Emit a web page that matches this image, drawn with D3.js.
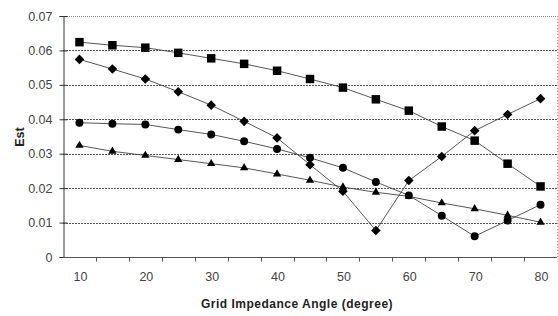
<!DOCTYPE html>
<html>
<head>
<meta charset="utf-8">
<script src="https://cdn.jsdelivr.net/npm/d3@7"></script>
<style>
body{margin:0;background:#fff;}
svg{display:block;font-family:"Liberation Sans",Arial,sans-serif;}
</style>
</head>
<body>
<svg id="chart" width="558" height="316"></svg>
<script>
// categories on the x axis (degrees)
var angles=[10,15,20,25,30,35,40,45,50,55,60,65,70,75,80];
var xLabels=[10,20,30,40,50,60,70,80];
var yTicks=[0,0.01,0.02,0.03,0.04,0.05,0.06,0.07];

// series
var squares=[0.0624,0.0615,0.0608,0.0593,0.0577,0.0561,0.0541,0.0517,0.0492,0.0458,0.0425,0.0379,0.0338,0.0271,0.0205];
var diamonds=[0.0574,0.0546,0.0517,0.0480,0.0441,0.0394,0.0346,0.0268,0.0191,0.0077,0.0222,0.0292,0.0367,0.0414,0.0460];
var circles=[0.0390,0.0387,0.0385,0.0370,0.0356,0.0336,0.0314,0.0288,0.0259,0.0218,0.0179,0.0120,0.0060,0.0106,0.0152];
var triangles=[0.0324,0.0307,0.0295,0.0283,0.0271,0.0259,0.0241,0.0223,0.0203,0.0188,0.0176,0.0157,0.0140,0.0121,0.0101];

// diamonds are squares turned 45 deg (d3's diamond is too tall)
var series=[
  {vals:squares, sym:d3.symbolSquare, size:72, rot:0},
  {vals:diamonds, sym:d3.symbolSquare, size:46, rot:45},
  {vals:circles, sym:d3.symbolCircle, size:50, rot:0},
  {vals:triangles, sym:d3.symbolTriangle, size:30, rot:0}
];

// plot box (pixels); note: "top" would clash with window.top
var pL=63, pR=557, pT=16, pB=257;
var svg=d3.select("#chart");

var x=d3.scalePoint().domain(angles).range([pL,pR]).padding(0.5);
var y=d3.scaleLinear().domain([0,0.07]).range([pB,pT]);
var step=x.step();

// dotted grid + frame
svg.append("g").selectAll("line").data(yTicks.slice(1,-1)).enter().append("line")
  .attr("x1",pL).attr("x2",pR)
  .attr("y1",function(d){return Math.round(y(d))+0.5;}).attr("y2",function(d){return Math.round(y(d))+0.5;})
  .attr("stroke","#555").attr("stroke-width",1).attr("stroke-dasharray","2,1");
svg.append("line").attr("x1",pL).attr("x2",pR).attr("y1",pT+0.5).attr("y2",pT+0.5)
  .attr("stroke","#888").attr("stroke-dasharray","1,1");
svg.append("line").attr("x1",pR+0.5).attr("x2",pR+0.5).attr("y1",pT).attr("y2",pB)
  .attr("stroke","#999").attr("stroke-dasharray","1,2");

// y axis
var yAxis=d3.axisLeft(y).tickValues(yTicks).tickSize(4).tickPadding(7)
  .tickFormat(function(d){return d===0?"0":d3.format(".2f")(d);});
var ya=svg.append("g").attr("transform","translate("+(pL+0.5)+",0)").call(yAxis);
ya.select(".domain").attr("stroke","#333");
ya.selectAll(".tick line").attr("stroke","#333").attr("x2",4).attr("x1",-4);
ya.selectAll("text").attr("font-size","12.5px").attr("fill","#444")
  .attr("font-family","'Liberation Sans',Arial,sans-serif");

// x axis: category ticks between the categories
var xa=svg.append("g").attr("transform","translate(0,"+(pB+0.5)+")");
xa.append("line").attr("x1",pL).attr("x2",pR).attr("stroke","#555");
xa.selectAll(".tk").data(d3.range(1,angles.length)).enter().append("line")
  .attr("x1",function(i){return Math.round(pL+i*step)+0.5;}).attr("x2",function(i){return Math.round(pL+i*step)+0.5;})
  .attr("y1",0).attr("y2",4).attr("stroke","#555");
xa.selectAll("text").data(xLabels).enter().append("text")
  .attr("x",function(d){return x(d)+1;}).attr("y",23)
  .attr("text-anchor","middle").attr("font-size","12.5px").attr("fill","#444")
  .text(function(d){return d;});

// titles
svg.append("text").attr("x",297).attr("y",308).attr("text-anchor","middle")
  .attr("font-size","12px").attr("font-weight","bold").attr("fill","#222")
  .attr("letter-spacing","0.5px")
  .text("Grid Impedance Angle (degree)");
svg.append("text").attr("transform","translate(24,137) rotate(-90)").attr("text-anchor","middle")
  .attr("font-size","12.5px").attr("font-weight","bold").attr("fill","#222").text("Est");

// lines and markers
var line=d3.line().x(function(d,i){return x(angles[i]);}).y(function(d){return y(d);});
series.forEach(function(s){
  svg.append("path").datum(s.vals).attr("d",line)
    .attr("fill","none").attr("stroke","#444").attr("stroke-width",0.9);
});
series.forEach(function(s){
  svg.append("g").selectAll("path").data(s.vals).enter().append("path")
    .attr("transform",function(d,i){return "translate("+x(angles[i])+","+y(d)+") rotate("+s.rot+")";})
    .attr("d",d3.symbol().type(s.sym).size(s.size))
    .attr("fill","#000");
});
</script>
</body>
</html>
